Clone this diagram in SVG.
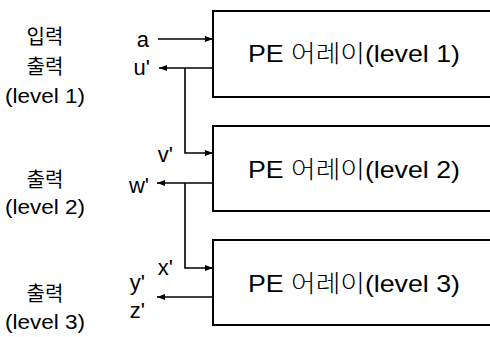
<svg xmlns="http://www.w3.org/2000/svg" width="490" height="337" viewBox="0 0 490 337">
<defs>
<marker id="ah" viewBox="0 0 8 6" refX="8" refY="3" markerWidth="8" markerHeight="6" markerUnits="userSpaceOnUse" orient="auto">
<path d="M0,0 L8,3 L0,6 z" fill="#000"/>
</marker>
</defs>
<style>
.box{fill:#fff;stroke:#000;stroke-width:2}
.ln{fill:none;stroke:#000;stroke-width:1.6}
.lbl{font-family:"Liberation Sans","Noto Sans CJK KR",sans-serif;font-size:20px;fill:#000;text-anchor:middle}
.sig{font-family:"Liberation Sans",sans-serif;font-size:22px;fill:#000;text-anchor:end}
.pe{font-family:"Liberation Sans","Noto Sans CJK KR",sans-serif;font-size:24px;fill:#000}
.k{font-weight:300}
</style>
<rect width="490" height="337" fill="#fff"/>
<g id="pe1">
<rect class="box" x="213" y="11" width="290" height="86"/>
<text class="pe" x="248" y="62" textLength="212" lengthAdjust="spacingAndGlyphs">PE <tspan class="k">어레이</tspan>(level 1)</text>
</g>
<g id="pe2">
<rect class="box" x="213" y="126" width="290" height="85"/>
<text class="pe" x="248" y="178" textLength="212" lengthAdjust="spacingAndGlyphs">PE <tspan class="k">어레이</tspan>(level 2)</text>
</g>
<g id="pe3">
<rect class="box" x="213" y="240" width="290" height="85"/>
<text class="pe" x="248" y="292" textLength="212" lengthAdjust="spacingAndGlyphs">PE <tspan class="k">어레이</tspan>(level 3)</text>
</g>
<g id="labels">
<text class="lbl" x="45" y="44">입력</text>
<text class="lbl" x="45" y="74">출력</text>
<text class="lbl" x="45" y="103" textLength="80" lengthAdjust="spacingAndGlyphs">(level 1)</text>
<text class="lbl" x="45" y="187">출력</text>
<text class="lbl" x="45" y="214" textLength="80" lengthAdjust="spacingAndGlyphs">(level 2)</text>
<text class="lbl" x="45" y="301">출력</text>
<text class="lbl" x="45" y="329" textLength="80" lengthAdjust="spacingAndGlyphs">(level 3)</text>
<text class="sig" x="149" y="47">a</text>
<text class="sig" x="150" y="75">u'</text>
<text class="sig" x="173" y="162">v'</text>
<text class="sig" x="149" y="193">w'</text>
<text class="sig" x="173" y="275">x'</text>
<text class="sig" x="145" y="290">y'</text>
<text class="sig" x="145" y="318">z'</text>
</g>
<g id="connectors">
<path class="ln" d="M158,39 H213" marker-end="url(#ah)"/>
<path class="ln" d="M213,68 H159" marker-end="url(#ah)"/>
<path class="ln" d="M185,68 V153 H213" marker-end="url(#ah)"/>
<path class="ln" d="M213,183 H157" marker-end="url(#ah)"/>
<path class="ln" d="M185,183 V268 H213" marker-end="url(#ah)"/>
<path class="ln" d="M213,297 H157" marker-end="url(#ah)"/>
</g>
</svg>
